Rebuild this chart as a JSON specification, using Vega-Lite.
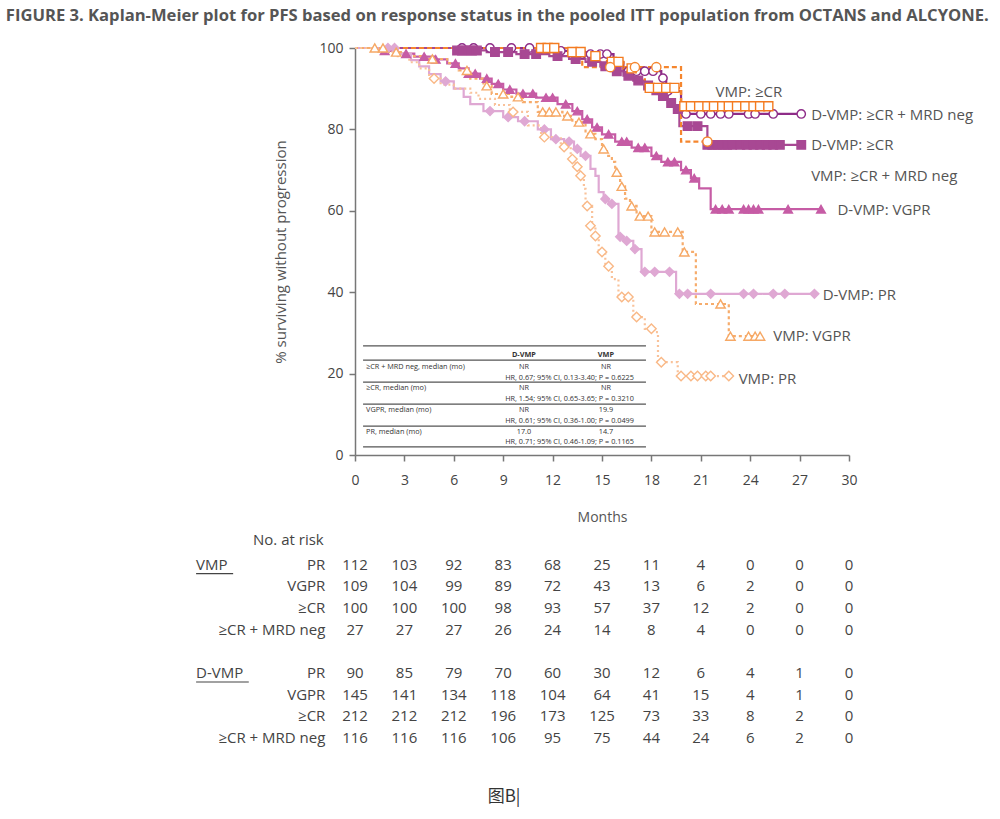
{
  "$schema": "https://vega.github.io/schema/vega-lite/v6.json",
  "background": "white",
  "padding": {"left": 5, "top": 8, "right": 5, "bottom": 5},
  "title": {
    "text": "FIGURE 3. Kaplan-Meier plot for PFS based on response status in the pooled ITT population from OCTANS and ALCYONE.",
    "font": "Open Sans", "fontSize": 16.6, "fontWeight": "bold", "color": "#555555",
    "anchor": "middle", "dx": -87, "offset": 16
  },
  "config": {"view": {"stroke": null}, "font": "Open Sans"},
  "spacing": 9,
  "resolve": {"scale": {"x": "independent", "y": "independent"}},
  "datasets": {
    "km": [
      {"c":"DM","m":0,"s":100},{"c":"DM","m":12.0,"s":99.3},{"c":"DM","m":13.0,"s":98.5},{"c":"DM","m":15.7,"s":96.5},{"c":"DM","m":16.3,"s":94.3},{"c":"DM","m":18.6,"s":92.6},{"c":"DM","m":18.9,"s":89.4},{"c":"DM","m":19.8,"s":83.8},{"c":"DM","m":27.1,"s":83.8},
      {"c":"DC","m":0,"s":100},{"c":"DC","m":6.2,"s":99.4},{"c":"DC","m":8.0,"s":99.0},{"c":"DC","m":9.8,"s":98.5},{"c":"DC","m":11.8,"s":98.0},{"c":"DC","m":13.0,"s":97.3},{"c":"DC","m":14.0,"s":96.6},{"c":"DC","m":14.9,"s":95.5},{"c":"DC","m":15.6,"s":94.3},{"c":"DC","m":16.3,"s":93.2},{"c":"DC","m":16.9,"s":92.0},{"c":"DC","m":17.6,"s":90.8},{"c":"DC","m":18.1,"s":89.6},{"c":"DC","m":18.5,"s":88.2},{"c":"DC","m":19.0,"s":86.5},{"c":"DC","m":19.4,"s":85.0},{"c":"DC","m":19.7,"s":80.8},{"c":"DC","m":21.4,"s":76.2},{"c":"DC","m":27.1,"s":76.2},
      {"c":"VC","m":0,"s":100},{"c":"VC","m":12.6,"s":99.0},{"c":"VC","m":14.2,"s":98.0},{"c":"VC","m":15.3,"s":96.6},{"c":"VC","m":16.3,"s":95.0},{"c":"VC","m":17.6,"s":90.2},{"c":"VC","m":19.8,"s":85.7},{"c":"VC","m":25.1,"s":85.7},
      {"c":"VM","m":0,"s":100},{"c":"VM","m":13.8,"s":95.3},{"c":"VM","m":19.8,"s":77.0},{"c":"VM","m":21.4,"s":77.0},
      {"c":"DV","m":0,"s":100},{"c":"DV","m":1.5,"s":99.3},{"c":"DV","m":2.6,"s":98.6},{"c":"DV","m":3.6,"s":97.9},{"c":"DV","m":4.8,"s":97.2},{"c":"DV","m":5.6,"s":96.2},{"c":"DV","m":6.3,"s":95.0},{"c":"DV","m":6.9,"s":93.7},{"c":"DV","m":7.6,"s":92.5},{"c":"DV","m":8.3,"s":91.2},{"c":"DV","m":9.0,"s":89.8},{"c":"DV","m":9.8,"s":88.8},{"c":"DV","m":11.0,"s":87.8},{"c":"DV","m":12.3,"s":86.2},{"c":"DV","m":13.2,"s":84.5},{"c":"DV","m":13.8,"s":82.5},{"c":"DV","m":14.4,"s":80.5},{"c":"DV","m":15.0,"s":78.8},{"c":"DV","m":15.8,"s":77.0},{"c":"DV","m":16.8,"s":75.5},{"c":"DV","m":18.0,"s":73.5},{"c":"DV","m":18.6,"s":72.0},{"c":"DV","m":19.8,"s":70.0},{"c":"DV","m":20.4,"s":68.0},{"c":"DV","m":20.9,"s":65.5},{"c":"DV","m":21.6,"s":60.4},{"c":"DV","m":28.3,"s":60.4},
      {"c":"DP","m":0,"s":100},{"c":"DP","m":2.6,"s":98.5},{"c":"DP","m":3.4,"s":97.0},{"c":"DP","m":3.9,"s":95.5},{"c":"DP","m":4.5,"s":93.6},{"c":"DP","m":5.2,"s":91.8},{"c":"DP","m":6.0,"s":90.0},{"c":"DP","m":6.6,"s":88.0},{"c":"DP","m":7.0,"s":86.2},{"c":"DP","m":7.8,"s":84.5},{"c":"DP","m":9.0,"s":83.0},{"c":"DP","m":9.9,"s":82.0},{"c":"DP","m":11.1,"s":80.0},{"c":"DP","m":11.9,"s":77.6},{"c":"DP","m":12.7,"s":77.0},{"c":"DP","m":13.3,"s":75.2},{"c":"DP","m":13.7,"s":73.5},{"c":"DP","m":14.3,"s":70.3},{"c":"DP","m":14.6,"s":68.6},{"c":"DP","m":14.8,"s":64.6},{"c":"DP","m":15.1,"s":62.9},{"c":"DP","m":15.4,"s":61.7},{"c":"DP","m":16.0,"s":53.6},{"c":"DP","m":16.3,"s":52.6},{"c":"DP","m":16.9,"s":50.6},{"c":"DP","m":17.4,"s":45.0},{"c":"DP","m":19.5,"s":39.6},{"c":"DP","m":27.9,"s":39.6},
      {"c":"VV","m":0,"s":100},{"c":"VV","m":2.0,"s":99.0},{"c":"VV","m":3.0,"s":98.0},{"c":"VV","m":4.0,"s":97.3},{"c":"VV","m":5.6,"s":96.3},{"c":"VV","m":6.3,"s":94.5},{"c":"VV","m":7.0,"s":92.5},{"c":"VV","m":7.8,"s":90.7},{"c":"VV","m":8.3,"s":88.7},{"c":"VV","m":9.5,"s":88.0},{"c":"VV","m":10.2,"s":86.7},{"c":"VV","m":11.1,"s":84.3},{"c":"VV","m":12.6,"s":83.3},{"c":"VV","m":13.2,"s":81.8},{"c":"VV","m":14.0,"s":78.9},{"c":"VV","m":14.6,"s":77.6},{"c":"VV","m":15.0,"s":75.2},{"c":"VV","m":15.3,"s":73.5},{"c":"VV","m":15.6,"s":72.0},{"c":"VV","m":15.8,"s":69.5},{"c":"VV","m":16.1,"s":66.0},{"c":"VV","m":16.4,"s":63.0},{"c":"VV","m":16.7,"s":61.2},{"c":"VV","m":17.1,"s":58.7},{"c":"VV","m":18.0,"s":54.8},{"c":"VV","m":19.9,"s":49.9},{"c":"VV","m":20.7,"s":37.1},{"c":"VV","m":22.7,"s":29.2},{"c":"VV","m":24.6,"s":29.2},
      {"c":"VP","m":0,"s":100},{"c":"VP","m":1.8,"s":99.1},{"c":"VP","m":2.6,"s":98.0},{"c":"VP","m":3.3,"s":96.5},{"c":"VP","m":3.9,"s":95.0},{"c":"VP","m":4.5,"s":92.5},{"c":"VP","m":5.2,"s":91.0},{"c":"VP","m":6.0,"s":90.0},{"c":"VP","m":7.0,"s":89.0},{"c":"VP","m":7.5,"s":87.5},{"c":"VP","m":8.5,"s":86.0},{"c":"VP","m":9.4,"s":84.3},{"c":"VP","m":10.5,"s":81.0},{"c":"VP","m":11.3,"s":78.1},{"c":"VP","m":12.5,"s":75.7},{"c":"VP","m":13.1,"s":72.7},{"c":"VP","m":13.4,"s":70.8},{"c":"VP","m":13.6,"s":68.6},{"c":"VP","m":13.9,"s":65.4},{"c":"VP","m":14.0,"s":61.2},{"c":"VP","m":14.4,"s":56.3},{"c":"VP","m":14.6,"s":53.8},{"c":"VP","m":14.8,"s":49.9},{"c":"VP","m":15.2,"s":46.4},{"c":"VP","m":15.6,"s":43.2},{"c":"VP","m":16.0,"s":38.8},{"c":"VP","m":16.9,"s":33.9},{"c":"VP","m":17.6,"s":31.0},{"c":"VP","m":18.2,"s":30.2},{"c":"VP","m":18.4,"s":22.8},{"c":"VP","m":19.6,"s":19.4},{"c":"VP","m":22.8,"s":19.4}
    ],
    "cens": [
      {"c":"DM","m":6.5,"s":100},{"c":"DM","m":7.2,"s":100},{"c":"DM","m":8.2,"s":100},{"c":"DM","m":9.5,"s":100},{"c":"DM","m":10.6,"s":100},{"c":"DM","m":11.4,"s":100},{"c":"DM","m":12.5,"s":99.3},{"c":"DM","m":13.3,"s":98.5},{"c":"DM","m":13.8,"s":98.5},{"c":"DM","m":14.3,"s":98.5},{"c":"DM","m":14.9,"s":98.5},{"c":"DM","m":15.3,"s":98.5},{"c":"DM","m":16.6,"s":94.3},{"c":"DM","m":17.1,"s":94.3},{"c":"DM","m":17.6,"s":94.3},{"c":"DM","m":18.1,"s":94.3},{"c":"DM","m":18.7,"s":92.6},{"c":"DM","m":19.0,"s":89.4},{"c":"DM","m":20.1,"s":83.8},{"c":"DM","m":21.0,"s":83.8},{"c":"DM","m":21.6,"s":83.8},{"c":"DM","m":22.2,"s":83.8},{"c":"DM","m":22.7,"s":83.8},{"c":"DM","m":23.9,"s":83.8},{"c":"DM","m":24.3,"s":83.8},{"c":"DM","m":25.4,"s":83.8},{"c":"DM","m":27.1,"s":83.8},
      {"c":"DC","m":6.2,"s":99.4},{"c":"DC","m":6.5,"s":99.4},{"c":"DC","m":6.8,"s":99.4},{"c":"DC","m":7.1,"s":99.4},{"c":"DC","m":7.4,"s":99.4},{"c":"DC","m":8.5,"s":99.0},{"c":"DC","m":9.3,"s":99.0},{"c":"DC","m":10.3,"s":98.5},{"c":"DC","m":11.0,"s":98.5},{"c":"DC","m":12.3,"s":98.0},{"c":"DC","m":13.4,"s":97.3},{"c":"DC","m":14.4,"s":96.6},{"c":"DC","m":15.2,"s":95.5},{"c":"DC","m":15.9,"s":94.3},{"c":"DC","m":16.6,"s":93.2},{"c":"DC","m":17.2,"s":92.0},{"c":"DC","m":17.8,"s":90.8},{"c":"DC","m":18.3,"s":89.6},{"c":"DC","m":18.7,"s":88.2},{"c":"DC","m":19.2,"s":86.5},{"c":"DC","m":19.6,"s":85.0},{"c":"DC","m":20.2,"s":80.8},{"c":"DC","m":20.8,"s":80.8},{"c":"DC","m":21.4,"s":76.2},{"c":"DC","m":21.7,"s":76.2},{"c":"DC","m":22.0,"s":76.2},{"c":"DC","m":22.3,"s":76.2},{"c":"DC","m":22.6,"s":76.2},{"c":"DC","m":22.9,"s":76.2},{"c":"DC","m":23.4,"s":76.2},{"c":"DC","m":23.8,"s":76.2},{"c":"DC","m":24.2,"s":76.2},{"c":"DC","m":24.6,"s":76.2},{"c":"DC","m":25.0,"s":76.2},{"c":"DC","m":25.4,"s":76.2},{"c":"DC","m":25.8,"s":76.2},{"c":"DC","m":27.1,"s":76.2},
      {"c":"VC","m":11.3,"s":100},{"c":"VC","m":11.7,"s":100},{"c":"VC","m":12.1,"s":100},{"c":"VC","m":13.2,"s":99.0},{"c":"VC","m":13.7,"s":99.0},{"c":"VC","m":14.6,"s":98.0},{"c":"VC","m":15.6,"s":96.6},{"c":"VC","m":16.0,"s":96.6},{"c":"VC","m":16.8,"s":95.0},{"c":"VC","m":17.9,"s":90.2},{"c":"VC","m":18.4,"s":90.2},{"c":"VC","m":18.9,"s":90.2},{"c":"VC","m":19.4,"s":90.2},{"c":"VC","m":20.0,"s":85.7},{"c":"VC","m":20.4,"s":85.7},{"c":"VC","m":20.9,"s":85.7},{"c":"VC","m":21.4,"s":85.7},{"c":"VC","m":21.8,"s":85.7},{"c":"VC","m":22.3,"s":85.7},{"c":"VC","m":22.7,"s":85.7},{"c":"VC","m":23.2,"s":85.7},{"c":"VC","m":23.7,"s":85.7},{"c":"VC","m":24.2,"s":85.7},{"c":"VC","m":24.6,"s":85.7},{"c":"VC","m":25.1,"s":85.7},
      {"c":"VM","m":15.5,"s":95.3},{"c":"VM","m":17.0,"s":95.3},{"c":"VM","m":18.3,"s":95.3},{"c":"VM","m":21.4,"s":77.0},
      {"c":"DV","m":1.8,"s":99.3},{"c":"DV","m":3.1,"s":98.6},{"c":"DV","m":4.2,"s":97.9},{"c":"DV","m":4.9,"s":97.2},{"c":"DV","m":6.1,"s":96.2},{"c":"DV","m":6.9,"s":93.7},{"c":"DV","m":7.3,"s":93.7},{"c":"DV","m":8.0,"s":92.5},{"c":"DV","m":8.7,"s":91.2},{"c":"DV","m":9.4,"s":89.8},{"c":"DV","m":10.2,"s":88.8},{"c":"DV","m":10.8,"s":88.8},{"c":"DV","m":11.6,"s":87.8},{"c":"DV","m":12.0,"s":87.8},{"c":"DV","m":12.8,"s":86.2},{"c":"DV","m":13.5,"s":84.5},{"c":"DV","m":14.1,"s":82.5},{"c":"DV","m":14.7,"s":80.5},{"c":"DV","m":15.4,"s":78.8},{"c":"DV","m":16.2,"s":77.0},{"c":"DV","m":16.5,"s":77.0},{"c":"DV","m":17.2,"s":75.5},{"c":"DV","m":17.6,"s":75.5},{"c":"DV","m":18.3,"s":73.5},{"c":"DV","m":19.0,"s":72.0},{"c":"DV","m":19.4,"s":72.0},{"c":"DV","m":20.1,"s":70.0},{"c":"DV","m":20.6,"s":68.0},{"c":"DV","m":21.9,"s":60.4},{"c":"DV","m":22.3,"s":60.4},{"c":"DV","m":22.7,"s":60.4},{"c":"DV","m":23.6,"s":60.4},{"c":"DV","m":23.9,"s":60.4},{"c":"DV","m":24.2,"s":60.4},{"c":"DV","m":24.5,"s":60.4},{"c":"DV","m":26.3,"s":60.4},{"c":"DV","m":28.3,"s":60.4},
      {"c":"DP","m":2.0,"s":100},{"c":"DP","m":2.4,"s":100},{"c":"DP","m":5.5,"s":91.8},{"c":"DP","m":8.2,"s":84.5},{"c":"DP","m":9.3,"s":83.0},{"c":"DP","m":10.3,"s":82.0},{"c":"DP","m":11.5,"s":80.0},{"c":"DP","m":12.2,"s":77.6},{"c":"DP","m":13.0,"s":77.0},{"c":"DP","m":13.5,"s":75.2},{"c":"DP","m":14.0,"s":73.5},{"c":"DP","m":15.2,"s":62.9},{"c":"DP","m":15.6,"s":61.7},{"c":"DP","m":16.1,"s":53.6},{"c":"DP","m":16.5,"s":52.6},{"c":"DP","m":17.0,"s":50.6},{"c":"DP","m":17.6,"s":45.0},{"c":"DP","m":18.2,"s":45.0},{"c":"DP","m":19.1,"s":45.0},{"c":"DP","m":19.7,"s":39.6},{"c":"DP","m":20.2,"s":39.6},{"c":"DP","m":21.6,"s":39.6},{"c":"DP","m":23.6,"s":39.6},{"c":"DP","m":24.2,"s":39.6},{"c":"DP","m":25.4,"s":39.6},{"c":"DP","m":26.1,"s":39.6},{"c":"DP","m":27.9,"s":39.6},
      {"c":"VV","m":1.2,"s":100},{"c":"VV","m":1.7,"s":100},{"c":"VV","m":2.5,"s":99.0},{"c":"VV","m":4.7,"s":97.3},{"c":"VV","m":6.8,"s":94.5},{"c":"VV","m":8.0,"s":90.7},{"c":"VV","m":9.0,"s":88.7},{"c":"VV","m":9.9,"s":88.0},{"c":"VV","m":11.4,"s":84.3},{"c":"VV","m":11.8,"s":84.3},{"c":"VV","m":12.2,"s":84.3},{"c":"VV","m":12.9,"s":83.3},{"c":"VV","m":13.6,"s":81.8},{"c":"VV","m":14.3,"s":78.9},{"c":"VV","m":15.1,"s":75.2},{"c":"VV","m":15.9,"s":69.5},{"c":"VV","m":16.2,"s":66.0},{"c":"VV","m":16.8,"s":61.2},{"c":"VV","m":17.3,"s":58.7},{"c":"VV","m":17.8,"s":58.7},{"c":"VV","m":18.2,"s":54.8},{"c":"VV","m":18.8,"s":54.8},{"c":"VV","m":19.6,"s":54.8},{"c":"VV","m":20.0,"s":49.9},{"c":"VV","m":22.2,"s":37.1},{"c":"VV","m":22.8,"s":29.2},{"c":"VV","m":23.9,"s":29.2},{"c":"VV","m":24.3,"s":29.2},{"c":"VV","m":24.6,"s":29.2},
      {"c":"VP","m":4.8,"s":92.5},{"c":"VP","m":9.6,"s":84.3},{"c":"VP","m":11.5,"s":78.1},{"c":"VP","m":12.7,"s":75.7},{"c":"VP","m":13.2,"s":72.7},{"c":"VP","m":13.5,"s":70.8},{"c":"VP","m":13.7,"s":68.6},{"c":"VP","m":14.1,"s":61.2},{"c":"VP","m":14.3,"s":56.3},{"c":"VP","m":14.6,"s":53.8},{"c":"VP","m":15.0,"s":49.9},{"c":"VP","m":15.4,"s":46.4},{"c":"VP","m":16.2,"s":38.8},{"c":"VP","m":16.6,"s":38.8},{"c":"VP","m":17.1,"s":33.9},{"c":"VP","m":18.0,"s":31.0},{"c":"VP","m":18.6,"s":22.8},{"c":"VP","m":19.8,"s":19.4},{"c":"VP","m":20.4,"s":19.4},{"c":"VP","m":20.8,"s":19.4},{"c":"VP","m":21.3,"s":19.4},{"c":"VP","m":21.6,"s":19.4},{"c":"VP","m":22.7,"s":19.4}
    ],
    "curveLabels": [
      {"t":"VMP: ≥CR","m":21.9,"s":89.2},
      {"t":"D-VMP: ≥CR + MRD neg","m":27.7,"s":83.5},
      {"t":"D-VMP: ≥CR","m":27.7,"s":76.2},
      {"t":"VMP: ≥CR + MRD neg","m":27.7,"s":68.5},
      {"t":"D-VMP: VGPR","m":29.3,"s":60.2},
      {"t":"D-VMP: PR","m":28.4,"s":39.3},
      {"t":"VMP: VGPR","m":25.4,"s":29.2},
      {"t":"VMP: PR","m":23.3,"s":18.7}
    ],
    "tableRules": [{"s":26.8},{"s":23.3},{"s":17.9},{"s":12.5},{"s":7.1},{"s":2.0}],
    "risk": [
      {"rk":"VMP|PR","m":0,"n":112},{"rk":"VMP|PR","m":3,"n":103},{"rk":"VMP|PR","m":6,"n":92},{"rk":"VMP|PR","m":9,"n":83},{"rk":"VMP|PR","m":12,"n":68},{"rk":"VMP|PR","m":15,"n":25},{"rk":"VMP|PR","m":18,"n":11},{"rk":"VMP|PR","m":21,"n":4},{"rk":"VMP|PR","m":24,"n":0},{"rk":"VMP|PR","m":27,"n":0},{"rk":"VMP|PR","m":30,"n":0},
      {"rk":"VMP|VGPR","m":0,"n":109},{"rk":"VMP|VGPR","m":3,"n":104},{"rk":"VMP|VGPR","m":6,"n":99},{"rk":"VMP|VGPR","m":9,"n":89},{"rk":"VMP|VGPR","m":12,"n":72},{"rk":"VMP|VGPR","m":15,"n":43},{"rk":"VMP|VGPR","m":18,"n":13},{"rk":"VMP|VGPR","m":21,"n":6},{"rk":"VMP|VGPR","m":24,"n":2},{"rk":"VMP|VGPR","m":27,"n":0},{"rk":"VMP|VGPR","m":30,"n":0},
      {"rk":"VMP|CR","m":0,"n":100},{"rk":"VMP|CR","m":3,"n":100},{"rk":"VMP|CR","m":6,"n":100},{"rk":"VMP|CR","m":9,"n":98},{"rk":"VMP|CR","m":12,"n":93},{"rk":"VMP|CR","m":15,"n":57},{"rk":"VMP|CR","m":18,"n":37},{"rk":"VMP|CR","m":21,"n":12},{"rk":"VMP|CR","m":24,"n":2},{"rk":"VMP|CR","m":27,"n":0},{"rk":"VMP|CR","m":30,"n":0},
      {"rk":"VMP|MRD","m":0,"n":27},{"rk":"VMP|MRD","m":3,"n":27},{"rk":"VMP|MRD","m":6,"n":27},{"rk":"VMP|MRD","m":9,"n":26},{"rk":"VMP|MRD","m":12,"n":24},{"rk":"VMP|MRD","m":15,"n":14},{"rk":"VMP|MRD","m":18,"n":8},{"rk":"VMP|MRD","m":21,"n":4},{"rk":"VMP|MRD","m":24,"n":0},{"rk":"VMP|MRD","m":27,"n":0},{"rk":"VMP|MRD","m":30,"n":0},
      {"rk":"D|PR","m":0,"n":90},{"rk":"D|PR","m":3,"n":85},{"rk":"D|PR","m":6,"n":79},{"rk":"D|PR","m":9,"n":70},{"rk":"D|PR","m":12,"n":60},{"rk":"D|PR","m":15,"n":30},{"rk":"D|PR","m":18,"n":12},{"rk":"D|PR","m":21,"n":6},{"rk":"D|PR","m":24,"n":4},{"rk":"D|PR","m":27,"n":1},{"rk":"D|PR","m":30,"n":0},
      {"rk":"D|VGPR","m":0,"n":145},{"rk":"D|VGPR","m":3,"n":141},{"rk":"D|VGPR","m":6,"n":134},{"rk":"D|VGPR","m":9,"n":118},{"rk":"D|VGPR","m":12,"n":104},{"rk":"D|VGPR","m":15,"n":64},{"rk":"D|VGPR","m":18,"n":41},{"rk":"D|VGPR","m":21,"n":15},{"rk":"D|VGPR","m":24,"n":4},{"rk":"D|VGPR","m":27,"n":1},{"rk":"D|VGPR","m":30,"n":0},
      {"rk":"D|CR","m":0,"n":212},{"rk":"D|CR","m":3,"n":212},{"rk":"D|CR","m":6,"n":212},{"rk":"D|CR","m":9,"n":196},{"rk":"D|CR","m":12,"n":173},{"rk":"D|CR","m":15,"n":125},{"rk":"D|CR","m":18,"n":73},{"rk":"D|CR","m":21,"n":33},{"rk":"D|CR","m":24,"n":8},{"rk":"D|CR","m":27,"n":2},{"rk":"D|CR","m":30,"n":0},
      {"rk":"D|MRD","m":0,"n":116},{"rk":"D|MRD","m":3,"n":116},{"rk":"D|MRD","m":6,"n":116},{"rk":"D|MRD","m":9,"n":106},{"rk":"D|MRD","m":12,"n":95},{"rk":"D|MRD","m":15,"n":75},{"rk":"D|MRD","m":18,"n":44},{"rk":"D|MRD","m":21,"n":24},{"rk":"D|MRD","m":24,"n":6},{"rk":"D|MRD","m":27,"n":2},{"rk":"D|MRD","m":30,"n":0}
    ],
    "rowLabels": [
      {"rk":"VMP|PR","lab":"PR"},{"rk":"VMP|VGPR","lab":"VGPR"},{"rk":"VMP|CR","lab":"≥CR"},{"rk":"VMP|MRD","lab":"≥CR + MRD neg"},
      {"rk":"D|PR","lab":"PR"},{"rk":"D|VGPR","lab":"VGPR"},{"rk":"D|CR","lab":"≥CR"},{"rk":"D|MRD","lab":"≥CR + MRD neg"}
    ],
    "headLabel": [{"rk":"hdr","lab":"No. at risk"}],
    "groupLabels": [{"rk":"VMP|PR","lab":"VMP"},{"rk":"D|PR","lab":"D-VMP"}],
    "caption": [{"rk":"cap","lab":"图B|"}]
  },
  "vconcat": [
    {
      "width": 494,
      "height": 407,
      "layer": [
        {
          "data": {"name": "km"},
          "mark": {"type": "line", "interpolate": "step-after", "strokeWidth": 2.2},
          "encoding": {
            "x": {"field": "m", "type": "quantitative", "scale": {"domain": [0, 30], "nice": false},
              "axis": {"title": "Months", "values": [0,3,6,9,12,15,18,21,24,27,30], "labelFlush": false, "grid": false, "domainColor": "#777777", "domainWidth": 1.5, "tickColor": "#777777", "tickWidth": 1.5, "tickSize": 6, "labelFontSize": 14, "labelColor": "#444444", "labelPadding": 12, "labelFont": "Open Sans", "titleFont": "Open Sans", "titleFontSize": 14, "titleFontWeight": "normal", "titleColor": "#555555", "titlePadding": 23}},
            "y": {"field": "s", "type": "quantitative", "scale": {"domain": [0, 100], "nice": false},
              "axis": {"title": "% surviving without progression", "values": [0,20,40,60,80,100], "labelFlush": false, "grid": false, "domainColor": "#777777", "domainWidth": 1.5, "tickColor": "#777777", "tickWidth": 1.5, "tickSize": 6, "labelFontSize": 14, "labelColor": "#444444", "labelPadding": 6, "labelFont": "Open Sans", "titleFont": "Open Sans", "titleFontSize": 15, "titleFontWeight": "normal", "titleColor": "#555555", "titlePadding": 30}},
            "color": {"field": "c", "type": "nominal", "legend": null,
              "scale": {"domain": ["VP","VV","VM","VC","DP","DV","DC","DM"], "range": ["#F9C29A","#F6AC6C","#F5862E","#F47B20","#DFA8D3","#C65CA5","#A84893","#8E2C88"]}},
            "strokeDash": {"field": "c", "type": "nominal", "legend": null,
              "scale": {"domain": ["VP","VV","VM","VC","DP","DV","DC","DM"], "range": [[2,3],[3,3],[5,3],[5,3],[1,0],[1,0],[1,0],[1,0]]}}
          }
        },
        {
          "data": {"name": "cens"},
          "mark": {"type": "point", "opacity": 1, "strokeWidth": 1.4},
          "encoding": {
            "x": {"field": "m", "type": "quantitative"},
            "y": {"field": "s", "type": "quantitative"},
            "shape": {"field": "c", "type": "nominal", "legend": null,
              "scale": {"domain": ["VP","VV","VM","VC","DP","DV","DC","DM"], "range": ["diamond","triangle-up","circle","square","diamond","triangle-up","square","circle"]}},
            "stroke": {"field": "c", "type": "nominal", "legend": null,
              "scale": {"domain": ["VP","VV","VM","VC","DP","DV","DC","DM"], "range": ["#F9B886","#F6A865","#F5862E","#F47B20","#DFA8D3","#C65CA5","#A84893","#8E2C88"]}},
            "fill": {"field": "c", "type": "nominal", "legend": null,
              "scale": {"domain": ["VP","VV","VM","VC","DP","DV","DC","DM"], "range": ["#ffffff","#ffffff","#ffffff","#ffffff","#DFA8D3","#C65CA5","#A84893","#ffffff"]}},
            "size": {"field": "c", "type": "nominal", "legend": null,
              "scale": {"domain": ["VP","VV","VM","VC","DP","DV","DC","DM"], "range": [90, 70, 40, 60, 100, 70, 70, 55]}}
          }
        },
        {
          "data": {"name": "curveLabels"},
          "mark": {"type": "text", "align": "left", "baseline": "middle", "fontSize": 15, "color": "#555555", "font": "Open Sans"},
          "encoding": {
            "x": {"field": "m", "type": "quantitative"},
            "y": {"field": "s", "type": "quantitative"},
            "text": {"field": "t"}
          }
        },
        {
          "data": {"name": "tableRules"},
          "mark": {"type": "rule", "color": "#555555", "strokeWidth": 1.1},
          "encoding": {
            "x": {"datum": 0.49, "type": "quantitative"},
            "x2": {"datum": 17.67},
            "y": {"field": "s", "type": "quantitative"}
          }
        },
        {
          "data": {"values": [{}]},
          "mark": {"type": "text", "align": "center", "baseline": "middle", "fontSize": 7.3, "fontWeight": "bold", "color": "#333333", "text": "D-VMP"},
          "encoding": {"x": {"datum": 10.26, "type": "quantitative"}, "y": {"datum": 24.6, "type": "quantitative"}}
        },
        {
          "data": {"values": [{}]},
          "mark": {"type": "text", "align": "center", "baseline": "middle", "fontSize": 7.3, "fontWeight": "bold", "color": "#333333", "text": "VMP"},
          "encoding": {"x": {"datum": 15.24, "type": "quantitative"}, "y": {"datum": 24.6, "type": "quantitative"}}
        },
        {
          "data": {"values": [{}]},
          "mark": {"type": "text", "align": "left", "baseline": "top", "fontSize": 7.3, "lineHeight": 21.7, "color": "#333333",
            "text": ["≥CR + MRD neg, median (mo)", "≥CR, median (mo)", "VGPR, median (mo)", "PR, median (mo)"]},
          "encoding": {"x": {"datum": 0.67, "type": "quantitative"}, "y": {"datum": 22.7, "type": "quantitative"}}
        },
        {
          "data": {"values": [{}]},
          "mark": {"type": "text", "align": "center", "baseline": "top", "fontSize": 7.3, "lineHeight": 21.7, "color": "#333333",
            "text": ["NR", "NR", "NR", "17.0"]},
          "encoding": {"x": {"datum": 10.26, "type": "quantitative"}, "y": {"datum": 22.7, "type": "quantitative"}}
        },
        {
          "data": {"values": [{}]},
          "mark": {"type": "text", "align": "center", "baseline": "top", "fontSize": 7.3, "lineHeight": 21.7, "color": "#333333",
            "text": ["NR", "NR", "19.9", "14.7"]},
          "encoding": {"x": {"datum": 15.24, "type": "quantitative"}, "y": {"datum": 22.7, "type": "quantitative"}}
        },
        {
          "data": {"values": [{}]},
          "mark": {"type": "text", "align": "right", "baseline": "top", "fontSize": 7.3, "lineHeight": 21.5, "color": "#333333",
            "text": ["HR, 0.67; 95% CI, 0.13-3.40; P = 0.6225", "HR, 1.54; 95% CI, 0.65-3.65; P = 0.3210", "HR, 0.61; 95% CI, 0.36-1.00; P = 0.0499", "HR, 0.71; 95% CI, 0.46-1.09; P = 0.1165"]},
          "encoding": {"x": {"datum": 16.94, "type": "quantitative"}, "y": {"datum": 20.0, "type": "quantitative"}}
        }
      ]
    },
    {
      "width": 494,
      "height": 260,
      "layer": [
        {
          "data": {"name": "risk"},
          "mark": {"type": "text", "align": "center", "baseline": "middle", "fontSize": 15, "color": "#444444", "font": "Open Sans"},
          "encoding": {
            "x": {"field": "m", "type": "quantitative", "scale": {"domain": [0, 30], "nice": false}, "axis": null},
            "y": {"field": "rk", "type": "nominal", "axis": null,
              "scale": {"type": "point", "padding": 0, "domain": ["hdr","VMP|PR","VMP|VGPR","VMP|CR","VMP|MRD","gap","D|PR","D|VGPR","D|CR","D|MRD","gap2","gap3","cap"]}},
            "text": {"field": "n", "type": "quantitative"}
          }
        },
        {
          "data": {"name": "rowLabels"},
          "mark": {"type": "text", "align": "right", "baseline": "middle", "fontSize": 15, "color": "#444444", "font": "Open Sans"},
          "encoding": {
            "x": {"datum": -1.8, "type": "quantitative"},
            "y": {"field": "rk", "type": "nominal"},
            "text": {"field": "lab", "type": "nominal"}
          }
        },
        {
          "data": {"name": "headLabel"},
          "mark": {"type": "text", "align": "right", "baseline": "middle", "fontSize": 15, "color": "#444444", "font": "Open Sans", "dy": -3},
          "encoding": {
            "x": {"datum": -1.9, "type": "quantitative"},
            "y": {"field": "rk", "type": "nominal"},
            "text": {"field": "lab", "type": "nominal"}
          }
        },
        {
          "data": {"name": "groupLabels"},
          "mark": {"type": "text", "align": "left", "baseline": "middle", "fontSize": 15, "color": "#444444", "font": "Open Sans"},
          "encoding": {
            "x": {"datum": -9.65, "type": "quantitative"},
            "y": {"field": "rk", "type": "nominal"},
            "text": {"field": "lab", "type": "nominal"}
          }
        },
        {
          "data": {"values": [{}]},
          "mark": {"type": "rule", "color": "#444444", "strokeWidth": 1.2, "yOffset": 9},
          "encoding": {"x": {"datum": -9.65, "type": "quantitative"}, "x2": {"datum": -7.4}, "y": {"datum": "VMP|PR", "type": "nominal"}}
        },
        {
          "data": {"values": [{}]},
          "mark": {"type": "rule", "color": "#444444", "strokeWidth": 1.2, "yOffset": 9},
          "encoding": {"x": {"datum": -9.65, "type": "quantitative"}, "x2": {"datum": -6.45}, "y": {"datum": "D|PR", "type": "nominal"}}
        },
        {
          "data": {"name": "caption"},
          "mark": {"type": "text", "align": "center", "baseline": "middle", "fontSize": 17, "color": "#333333", "font": "Noto Sans CJK SC", "dy": -6},
          "encoding": {
            "x": {"datum": 9.05, "type": "quantitative"},
            "y": {"field": "rk", "type": "nominal"},
            "text": {"field": "lab", "type": "nominal"}
          }
        }
      ]
    }
  ]
}
